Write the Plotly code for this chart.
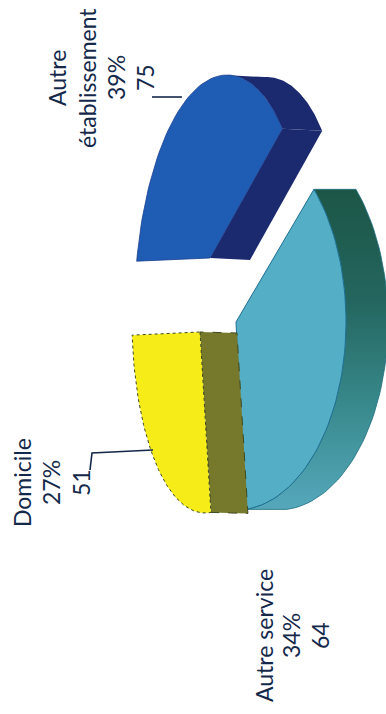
import math
import plotly.graph_objects as go

# --- data ---
categories = ["Autre établissement", "Autre service", "Domicile"]
values = [75, 64, 51]
percents = ["39%", "34%", "27%"]
label_lines = [["Autre", "établissement"], ["Autre service"], ["Domicile"]]

# --- drawing settings for the oblique (perspective) pie, in canvas pixels ---
START = 179.0
STYLE = {
    "Autre établissement": dict(cx=210, cy=258, A=80, B=7, D=-17, ry=183, shift=(40, 2),
                                top="#1f5db5", side="#1b2a6f", edge="#1b3f8f"),
    "Autre service": dict(cx=236, cy=322, A=110, B=0, D=0, ry=188, shift=(42, 0),
                          top="#53aec6", side=None, edge="#1f6f92"),
    "Domicile": dict(cx=200, cy=332, A=73, B=5, D=5, ry=181, shift=(37, 1),
                     top="#f6ec18", side="#76782c", edge="#3f4a20"),
}
LABEL_X = {
    "Autre établissement": [57, 87, 116, 145],
    "Autre service": [264, 291, 320],
    "Domicile": [22, 51, 81],
}
LABEL_Y = {"Autre établissement": 78, "Autre service": 636, "Domicile": 483}
FONT = dict(family="Lato, Open Sans, sans-serif", size=23, color="#14284a")


def warp(t):
    r = math.radians(t)
    return t - 1.66 + 4.93 * math.sin(r) - 1.58 * math.cos(r)


def rim(s, t, dx=0, dy=0):
    r = math.radians(t)
    c, n = math.cos(r), math.sin(r)
    return (s["cx"] + s["A"] * c + s["B"] * c * c + s["D"] * n + dx, s["cy"] + s["ry"] * n + dy)


def arc(s, a, b, dx=0, dy=0, n=60):
    pts = [rim(s, a + (b - a) * i / n, dx, dy) for i in range(n + 1)]
    return [p[0] for p in pts], [p[1] for p in pts]


fig = go.Figure()


def poly(xs, ys, fill=None, line=None, width=1, gradient=None, dash="solid"):
    kw = dict(x=xs + xs[:1], y=ys + ys[:1], mode="lines", fill="toself", hoverinfo="skip",
              showlegend=False, line=dict(color=line or "rgba(0,0,0,0)", width=width, dash=dash))
    if gradient:
        kw["fillgradient"] = gradient
    else:
        kw["fillcolor"] = fill
    fig.add_trace(go.Scatter(**kw))


# slice angles follow from the values
total = sum(values)
spans = {}
a = START
for cat, v in zip(categories, values):
    b = a + v / total * 360
    spans[cat] = (warp(a % 360), warp(b % 360))
    a = b

# 1) établissement
s = STYLE["Autre établissement"]
t0, t1 = spans["Autre établissement"]
t0 = t0 if t0 > 0 else t0 + 360
t1 = t1 if t1 > t0 else t1 + 360
sx, sy = s["shift"]
x1, y1 = arc(s, 268, t1)
x2, y2 = arc(s, 268, t1, sx, sy)
cxp, cyp = s["cx"], s["cy"]
poly(x1 + x2[::-1], y1 + y2[::-1], fill=s["side"])
ex, ey = rim(s, t1)
poly([cxp, ex, ex + sx, cxp + sx], [cyp, ey, ey + sy, cyp + sy], fill=s["side"])
x, y = arc(s, t0, t1)
poly([cxp] + x, [cyp] + y, fill=s["top"], line=s["edge"], width=0.8)

# 2) autre service
s = STYLE["Autre service"]
t0, t1 = spans["Autre service"]
t0 = t0 - 360 if t0 > 180 else t0
sx, sy = s["shift"]
x1, y1 = arc(s, t0, t1)
x2, y2 = arc(s, t0, t1, sx, sy)
poly(x1 + x2[::-1], y1 + y2[::-1], line="#1f6f82", width=0.8, gradient=dict(
    type="vertical",
    colorscale=[[0, "#55a8bb"], [0.3, "#3a8c90"], [0.65, "#24665f"], [1, "#1c5646"]],
))
poly([s["cx"]] + x1, [s["cy"]] + y1, fill=s["top"], line=s["edge"], width=1)

# 3) domicile
s = STYLE["Domicile"]
t0, t1 = spans["Domicile"]
sx, sy = s["shift"]
ex, ey = rim(s, t0)
poly([s["cx"], ex, ex + sx, s["cx"] + sx], [s["cy"], ey, ey + sy, s["cy"] + sy],
     fill=s["side"], line=s["edge"], width=1, dash="dash")
x, y = arc(s, t0, t1)
poly([s["cx"]] + x, [s["cy"]] + y, fill=s["top"], line=s["edge"], width=1, dash="dot")

# leader lines
for lx, ly in [([153, 92, 90], [450, 453, 470]), ([152, 182], [97, 97])]:
    fig.add_trace(go.Scatter(x=lx, y=ly, mode="lines", hoverinfo="skip", showlegend=False,
                             line=dict(color="#14284a", width=1.6)))

# labels
for cat, lines, pct, v in zip(categories, label_lines, percents, values):
    texts = lines + [pct, str(v)]
    for tx, px in zip(texts, LABEL_X[cat]):
        fig.add_annotation(x=px, y=LABEL_Y[cat], text=tx, textangle=-90, showarrow=False,
                           font=FONT, xanchor="center", yanchor="middle")

fig.update_layout(
    width=386, height=714, margin=dict(l=0, r=0, t=0, b=0),
    paper_bgcolor="white", plot_bgcolor="white", showlegend=False,
    xaxis=dict(range=[0, 386], visible=False, fixedrange=True),
    yaxis=dict(range=[714, 0], visible=False, fixedrange=True),
)
fig.write_html("out.html", config=dict(displayModeBar=False),
               post_script="document.body.style.margin='0';document.documentElement.style.overflow='hidden';")
